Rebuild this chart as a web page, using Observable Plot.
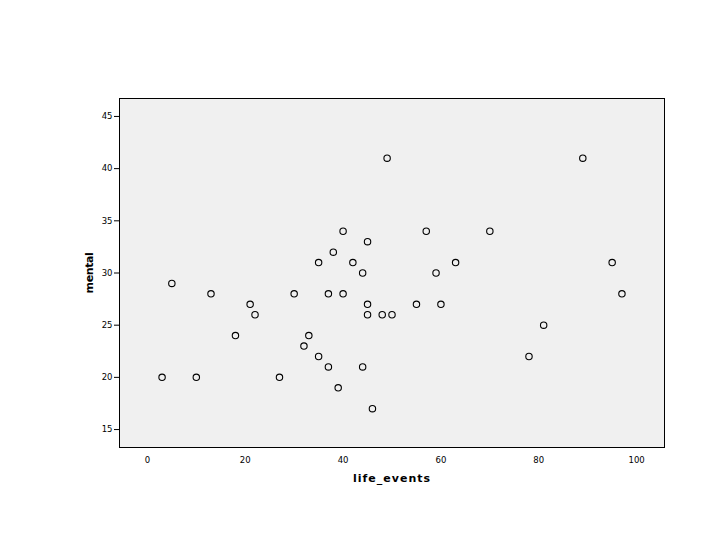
<!DOCTYPE html>
<html>
<head>
<meta charset="utf-8">
<script src="https://cdn.jsdelivr.net/npm/d3@7"></script>
<script src="https://cdn.jsdelivr.net/npm/@observablehq/plot@0.6"></script>
<style>
  html, body { margin: 0; padding: 0; background: #fff; }
</style>
</head>
<body>
<div id="chart"></div>
<script>
const lifeEvents = [3, 10, 5, 13, 18, 21, 22, 27, 30, 32, 33, 35, 35, 37, 37, 38, 39, 40, 40, 42, 44, 44, 45, 45, 45, 46, 48, 49, 50, 55, 57, 59, 60, 63, 70, 78, 81, 89, 95, 97];
const mental =     [20, 20, 29, 28, 24, 27, 26, 20, 28, 23, 24, 22, 31, 28, 21, 32, 19, 34, 28, 31, 30, 21, 33, 27, 26, 17, 26, 41, 26, 27, 34, 30, 27, 31, 34, 22, 25, 41, 31, 28];
const xTicks = [0, 20, 40, 60, 80, 100];
const yTicks = [15, 20, 25, 30, 35, 40, 45];
const xLabel = "life_events";
const yLabel = "mental";

const data = lifeEvents.map((x, i) => ({life_events: x, mental: mental[i]}));

const chart = Plot.plot({
  width: 720,
  height: 540,
  marginLeft: 119,
  marginRight: 56,
  marginTop: 98,
  marginBottom: 93,
  style: {fontFamily: "DejaVu Sans", fontSize: "8.5px", color: "#000", background: "#fff"},
  x: {domain: [-5.7, 105.7]},
  y: {domain: [13.28, 46.72]},
  marks: [
    Plot.frame({fill: "#f0f0f0", stroke: "none"}),
    Plot.axisX({ticks: xTicks, tickSize: 0, tickPadding: 9, label: xLabel, labelAnchor: "center", labelOffset: 34, fontSize: 8.5}),
    Plot.axisY({ticks: yTicks, tickSize: 5, tickPadding: 2, label: yLabel, labelAnchor: "center", labelOffset: 34, fontSize: 8.5}),
    Plot.dot(data, {x: "life_events", y: "mental", r: 3.2, stroke: "#000", strokeWidth: 1.1, fill: "none"}),
    Plot.frame({stroke: "#000", strokeWidth: 1})
  ]
});

// bold axis labels without arrows
chart.querySelectorAll("[aria-label='x-axis label'] text, [aria-label='y-axis label'] text").forEach(t => {
  t.textContent = t.textContent.replace(/\s*[→↑←↓]\s*/g, "");
  t.setAttribute("font-weight", "bold");
  t.setAttribute("font-size", "11");
});
chart.querySelectorAll("[aria-label='x-axis label'] text").forEach(t => t.setAttribute("letter-spacing", "1"));
chart.querySelectorAll("[aria-label='y-axis label'] text").forEach(t => t.setAttribute("letter-spacing", "-0.4"));
document.getElementById("chart").appendChild(chart);
</script>
</body>
</html>
